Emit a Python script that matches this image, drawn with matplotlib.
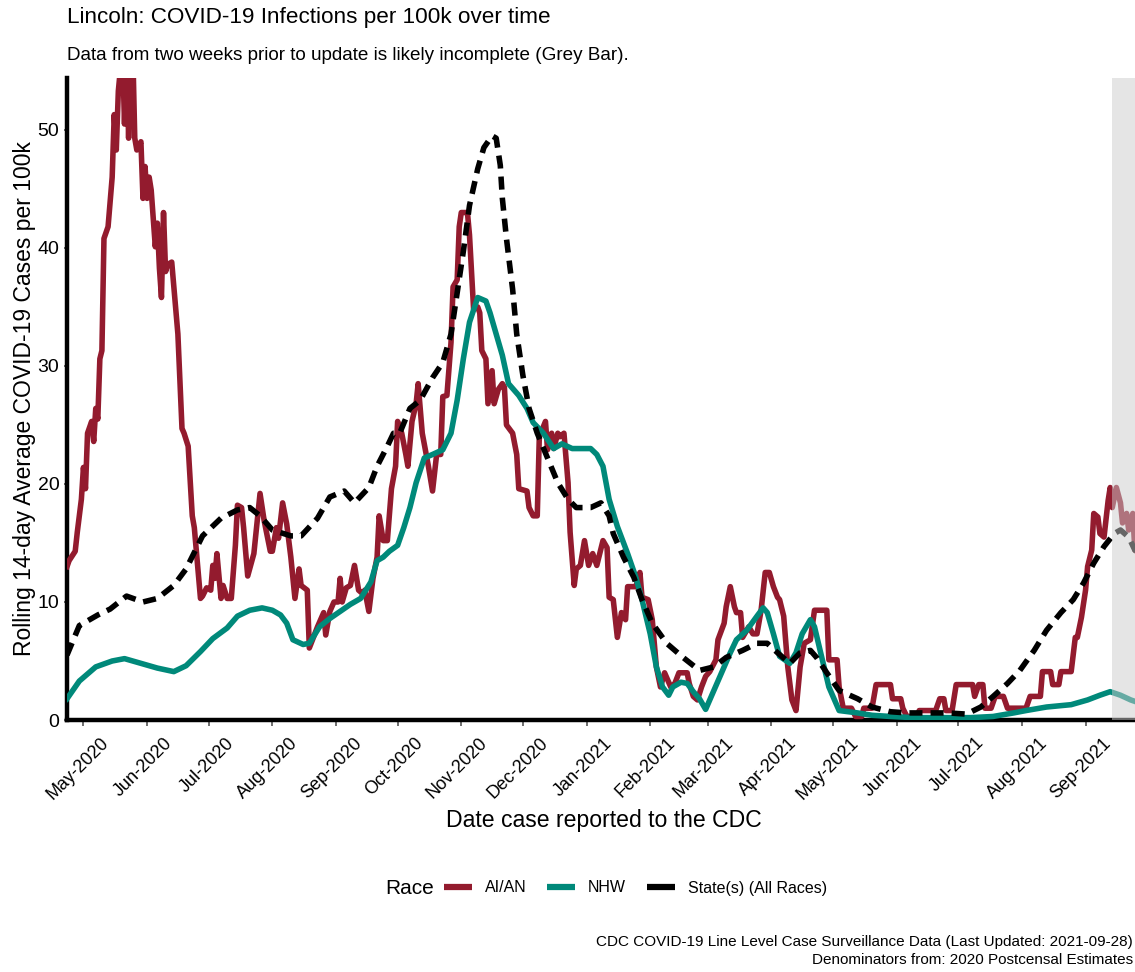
import pandas as pd
import matplotlib
matplotlib.use('Agg')
import matplotlib.pyplot as plt
import matplotlib.dates as mdates
import matplotlib.transforms as mtransforms
from matplotlib.lines import Line2D
from matplotlib import font_manager

# pick a narrow face for the title / legend / caption if the system has one
names = set(f.name for f in font_manager.fontManager.ttflist)
narrow = 'Liberation Sans Narrow' if 'Liberation Sans Narrow' in names else 'Liberation Sans'
plt.rcParams['font.family'] = ['Liberation Sans', 'DejaVu Sans']

start = pd.Timestamp('2020-04-23')
last_update = '2021-09-28'
incomplete_from = '2021-09-14'

# days since start / rolling 14-day average per 100k
aian_day = [0, 1, 4, 5, 7, 8, 9, 10, 12, 13, 14, 15, 16, 17, 18, 20, 22, 23, 24, 25,
            27, 28, 29, 30, 31, 32, 33, 34, 36, 37, 38, 39, 40, 41, 43, 44, 45, 46, 47, 48,
            49, 51, 54, 56, 57, 59, 61, 62, 65, 66, 68, 70, 71, 72, 73, 75, 76, 78, 80, 82,
            83, 85, 86, 88, 91, 94, 96, 99, 100, 102, 103, 105, 107, 109, 111, 113, 114, 117, 118, 120,
            122, 125, 126, 128, 130, 132, 133, 134, 136, 138, 140, 142, 144, 145, 147, 149, 151, 152, 154, 156,
            158, 160, 161, 163, 165, 166, 168, 170, 171, 172, 173, 176, 178, 180, 182, 183, 185, 187, 188, 190,
            191, 192, 195, 196, 198, 200, 201, 202, 204, 205, 207, 208, 210, 212, 213, 214, 217, 219, 220, 224,
            225, 227, 229, 230, 233, 234, 236, 237, 239, 240, 242, 244, 245, 247, 248, 250, 252, 254, 256, 258,
            261, 263, 264, 266, 268, 270, 272, 273, 277, 279, 280, 283, 285, 287, 289, 291, 294, 296, 298, 302,
            303, 305, 307, 309, 311, 313, 316, 317, 320, 321, 323, 325, 326, 328, 329, 332, 334, 336, 338, 340,
            342, 344, 346, 347, 349, 351, 353, 355, 357, 359, 362, 364, 370, 371, 375, 376, 378, 382, 384, 387,
            388, 392, 394, 401, 402, 406, 407, 409, 412, 414, 415, 423, 425, 427, 428, 431, 433, 438, 441, 442,
            444, 446, 447, 450, 452, 456, 458, 467, 469, 474, 475, 479, 480, 483, 484, 489, 491, 492, 494, 496,
            497, 499, 500, 502, 503, 505, 507, 508, 509, 511, 513, 514, 516, 517, 519, 520, 523]
aian_rate = [13.0, 13.5, 14.3, 15.9, 18.7, 21.4, 19.6, 24.3, 25.3, 23.6, 26.4, 25.5, 30.6, 31.3, 40.8, 41.8, 46.0, 51.3, 48.3, 53.3,
             57.0, 50.5, 57.0, 49.3, 57.0, 57.0, 49.3, 48.3, 49.0, 44.2, 46.9, 44.2, 46.0, 44.9, 40.1, 42.1, 38.3, 35.8, 43.0, 38.0,
             38.6, 38.8, 32.7, 24.7, 24.3, 23.2, 17.3, 16.3, 10.3, 10.5, 11.2, 11.0, 13.1, 12.0, 14.1, 10.3, 11.4, 10.3, 10.3, 14.8,
             18.2, 18.0, 16.3, 12.2, 14.1, 19.2, 16.9, 14.3, 14.3, 16.3, 15.4, 18.4, 16.6, 13.8, 10.3, 12.8, 11.4, 11.0, 6.1, 7.0,
             7.9, 9.1, 7.2, 9.2, 10.0, 10.0, 12.0, 10.0, 11.2, 11.4, 13.1, 11.0, 10.7, 11.0, 9.2, 12.0, 13.8, 17.3, 15.2, 15.2,
             19.6, 21.5, 25.3, 24.3, 22.5, 21.5, 25.3, 26.8, 28.5, 26.4, 24.3, 21.5, 19.4, 22.5, 22.5, 27.4, 27.5, 32.0, 36.7, 37.3,
             41.8, 43.0, 43.0, 41.1, 34.8, 35.0, 34.5, 31.3, 30.6, 26.8, 29.6, 26.8, 28.0, 28.5, 28.2, 25.0, 24.3, 22.5, 19.6, 19.4,
             18.0, 17.3, 17.3, 24.0, 25.3, 22.9, 24.3, 23.0, 24.3, 24.0, 24.3, 20.1, 15.9, 11.4, 12.8, 13.1, 15.2, 13.1, 14.1, 13.1,
             15.2, 14.6, 10.4, 10.2, 7.0, 9.1, 8.5, 11.3, 11.3, 12.5, 10.4, 10.2, 8.5, 4.5, 2.8, 4.0, 2.8, 3.1, 4.0, 4.0,
             3.1, 2.0, 1.7, 2.8, 3.7, 4.1, 5.1, 6.8, 8.2, 9.6, 11.3, 9.6, 9.1, 9.1, 7.0, 7.9, 7.3, 7.3, 9.3, 12.5,
             12.5, 11.3, 10.4, 10.2, 8.8, 4.5, 1.7, 0.8, 4.5, 6.5, 6.8, 9.3, 9.3, 5.1, 5.1, 2.8, 1.0, 1.0, 0.3, 0.3,
             1.0, 1.0, 3.0, 3.0, 1.8, 1.8, 1.0, 0.3, 0.3, 0.0, 0.8, 0.8, 1.8, 1.8, 0.8, 0.8, 3.0, 3.0, 3.0, 2.0,
             3.0, 3.0, 1.0, 1.0, 2.0, 2.0, 1.0, 1.0, 2.0, 2.0, 4.1, 4.1, 3.0, 3.0, 4.1, 4.1, 7.0, 7.0, 8.7, 11.0,
             13.0, 14.4, 17.5, 17.2, 15.8, 15.5, 18.6, 19.7, 18.0, 19.7, 18.4, 16.7, 17.5, 16.1, 17.5, 14.4, 14.0]

nhw_day = [0, 6, 14, 22, 28, 36, 44, 52, 58, 65, 71, 78, 83, 89, 95, 100, 104, 107, 110, 115,
           118, 123, 128, 133, 138, 143, 148, 151, 154, 157, 161, 164, 167, 170, 174, 178, 183, 187, 190, 193,
           196, 200, 204, 206, 209, 212, 215, 217, 220, 224, 227, 232, 237, 241, 246, 251, 255, 258, 261, 264,
           268, 273, 277, 280, 284, 287, 290, 293, 295, 299, 302, 305, 308, 311, 313, 318, 323, 326, 331, 336,
           339, 341, 344, 347, 352, 355, 358, 362, 364, 367, 371, 376, 385, 392, 401, 412, 425, 440, 451, 461,
           467, 477, 489, 497, 503, 508, 513, 518, 523]
nhw_rate = [1.8, 3.3, 4.5, 5.0, 5.2, 4.8, 4.4, 4.1, 4.6, 5.8, 6.9, 7.8, 8.8, 9.3, 9.5, 9.3, 8.9, 8.2, 6.8, 6.4,
            6.5, 7.9, 8.6, 9.2, 9.8, 10.3, 11.7, 13.5, 13.8, 14.3, 14.8, 16.3, 18.0, 20.1, 22.2, 22.5, 22.9, 24.3, 27.1, 30.6,
            33.7, 35.8, 35.5, 34.5, 32.7, 30.9, 28.5, 28.1, 27.5, 26.4, 25.2, 24.3, 23.0, 23.4, 23.0, 23.0, 23.0, 22.5, 21.5, 18.7,
            16.4, 14.1, 12.1, 10.2, 7.3, 4.5, 2.8, 2.1, 2.8, 3.2, 3.1, 2.4, 1.8, 0.9, 1.7, 3.7, 5.7, 6.8, 7.6, 8.8,
            9.5, 9.1, 7.3, 5.4, 4.8, 5.7, 7.3, 8.5, 7.9, 5.7, 2.8, 0.8, 0.6, 0.4, 0.3, 0.2, 0.2, 0.2, 0.3, 0.6,
            0.8, 1.1, 1.3, 1.7, 2.1, 2.4, 2.1, 1.7, 1.4]

state_day = [0, 6, 15, 21, 29, 37, 44, 52, 58, 66, 75, 83, 89, 94, 100, 109, 114, 122, 128, 135,
             140, 147, 151, 156, 159, 162, 167, 172, 178, 183, 187, 190, 193, 196, 200, 203, 207, 209, 211, 212,
             214, 217, 219, 222, 225, 229, 234, 239, 244, 248, 255, 260, 264, 266, 271, 276, 280, 285, 292, 300,
             308, 315, 321, 329, 336, 341, 346, 352, 357, 362, 365, 370, 376, 385, 392, 401, 409, 419, 429, 438,
             445, 451, 458, 464, 471, 477, 484, 490, 495, 500, 505, 510, 513, 517, 520, 523]
state_rate = [5.5, 8.0, 8.9, 9.4, 10.5, 10.0, 10.3, 11.4, 12.8, 15.6, 17.1, 17.8, 18.0, 17.3, 16.1, 15.6, 15.6, 17.1, 18.9, 19.4,
              18.4, 19.7, 21.5, 23.2, 24.3, 24.3, 26.4, 27.1, 29.0, 30.3, 32.7, 36.2, 39.7, 43.6, 46.7, 48.5, 49.5, 49.3, 47.0, 44.2,
              40.8, 36.5, 32.7, 29.2, 26.4, 24.3, 22.2, 20.1, 18.7, 18.0, 18.0, 18.4, 17.3, 15.8, 13.8, 12.1, 10.2, 8.2, 6.5, 5.3,
              4.2, 4.5, 5.3, 5.9, 6.5, 6.5, 5.7, 4.8, 5.7, 5.9, 5.3, 4.0, 2.5, 1.8, 1.1, 0.7, 0.6, 0.6, 0.6, 0.5,
              1.1, 2.0, 3.1, 4.2, 5.9, 7.6, 9.1, 10.2, 11.6, 13.3, 14.7, 15.8, 16.1, 15.5, 14.4, 14.0]

aian_dates = start + pd.to_timedelta(aian_day, unit='D')
nhw_dates = start + pd.to_timedelta(nhw_day, unit='D')
state_dates = start + pd.to_timedelta(state_day, unit='D')

red = '#931B2E'
teal = '#00897A'

fig = plt.figure(figsize=(11.35, 9.72), dpi=100)
ax = fig.add_axes([67 / 1135, 252 / 972, 1074 / 1135, 642 / 972])

ax.plot(aian_dates, aian_rate, color=red, lw=4, solid_joinstyle='round', zorder=3)
ax.plot(nhw_dates, nhw_rate, color=teal, lw=4, solid_joinstyle='round', zorder=3)
ax.plot(state_dates, state_rate, color='black', lw=4, dashes=(2.35, 1.45), zorder=4)

# grey bar over the last two weeks
ax.axvspan(pd.Timestamp(incomplete_from), pd.Timestamp(last_update), color='#cccccc', alpha=0.5, lw=0, zorder=5)

ax.set_xlim(start, pd.Timestamp(last_update))
ax.set_ylim(0, 54.4)
ax.set_yticks([0, 10, 20, 30, 40, 50])

ax.xaxis.set_major_locator(mdates.MonthLocator())
ax.xaxis.set_major_formatter(mdates.DateFormatter('%b-%Y'))

ax.tick_params(axis='both', labelsize=13, colors='#555555', labelcolor='black', length=4, width=1.2)
ax.tick_params(axis='y', length=2, labelsize=14)

# rotate + nudge the date labels (after tick_params, which resets transforms)
shift = mtransforms.ScaledTranslation(0.17, -0.04, fig.dpi_scale_trans)
for lab in ax.get_xticklabels():
    lab.set_rotation(45)
    lab.set_ha('right')
    lab.set_va('top')
    lab.set_rotation_mode('anchor')
    lab.set_transform(lab.get_transform() + shift)

for s in ['top', 'right']:
    ax.spines[s].set_visible(False)
for s in ['left', 'bottom']:
    ax.spines[s].set_linewidth(3.2)
    ax.spines[s].set_color('black')

ax.set_xlabel('Date case reported to the CDC', fontsize=16.6, labelpad=4)
ax.set_ylabel('Rolling 14-day Average COVID-19 Cases per 100k', fontsize=16.5, labelpad=1)

fig.text(67 / 1135, 1 - 18 / 972, 'Lincoln: COVID-19 Infections per 100k over time',
         family=narrow, fontsize=16.2, va='center', ha='left')
fig.text(67 / 1135, 1 - 55 / 972, 'Data from two weeks prior to update is likely incomplete (Grey Bar).',
         family=narrow, fontsize=13.6, va='center', ha='left')

# legend with the title on the left, like ggplot's bottom legend
fig.text(385 / 1135, 1 - 888 / 972, 'Race', fontsize=15, va='center', ha='left')
handles = [Line2D([], [], color=red, lw=4.5, solid_capstyle='butt'),
           Line2D([], [], color=teal, lw=4.5, solid_capstyle='butt'),
           Line2D([], [], color='black', lw=4.5, solid_capstyle='butt')]
fig.legend(handles, ['AI/AN', 'NHW', 'State(s) (All Races)'], ncol=3, frameon=False,
           loc='center left', bbox_to_anchor=(433 / 1135, 1 - 888 / 972),
           prop={'family': narrow, 'size': 11.5}, handlelength=1.75, handletextpad=0.8,
           columnspacing=1.3, borderpad=0.2)

fig.text(1133 / 1135, 1 - 942 / 972,
         'CDC COVID-19 Line Level Case Surveillance Data (Last Updated: ' + last_update + ')',
         family=narrow, fontsize=11, ha='right', va='center')
fig.text(1133 / 1135, 1 - 960 / 972, 'Denominators from: 2020 Postcensal Estimates',
         family=narrow, fontsize=11, ha='right', va='center')

fig.savefig('out.png', dpi=100)
